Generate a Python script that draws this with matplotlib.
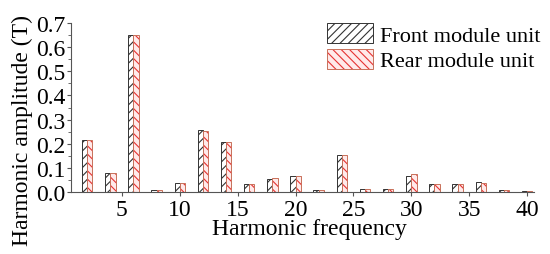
import numpy as np
import matplotlib.pyplot as plt
from matplotlib.ticker import MultipleLocator

# harmonic orders and amplitudes (T)
orders = [2, 4, 6, 8, 10, 12, 14, 16, 18, 20, 22, 24, 26, 28, 30, 32, 34, 36, 38, 40]
front = [0.215, 0.080, 0.649, 0.007, 0.037, 0.257, 0.208, 0.032, 0.055, 0.067,
         0.007, 0.154, 0.011, 0.012, 0.067, 0.032, 0.035, 0.042, 0.010, 0.004]
rear = [0.215, 0.080, 0.649, 0.007, 0.037, 0.253, 0.208, 0.032, 0.058, 0.067,
        0.007, 0.154, 0.011, 0.012, 0.075, 0.032, 0.035, 0.037, 0.010, 0.004]

plt.rcParams['font.family'] = ['Liberation Serif', 'DejaVu Serif']
plt.rcParams['hatch.linewidth'] = 0.8
plt.rcParams['hatch.color'] = 'black'

fig = plt.figure(figsize=(5.5, 2.55), dpi=100)
ax = fig.add_axes([0.129, 0.243, 0.842, 0.663])

red_hatch = (0.9, 0.2, 0.2, 1.0)
x = np.array(orders)
w = 0.45
ax.bar(x - w / 2, front, width=w, color='white', edgecolor='#333333',
       hatch='////', linewidth=0.7, label='Front module unit')
b2 = ax.bar(x + w / 2, rear, width=w, color='#ffeaea', edgecolor='#c8705a',
            hatch='\\\\\\\\', linewidth=0.7, label='Rear module unit')
for p in b2:
    p._hatch_color = red_hatch

ax.set_xlim(0.6, 40.6)
ax.set_ylim(0, 0.7)
ax.xaxis.set_major_locator(MultipleLocator(5))
ax.yaxis.set_major_locator(MultipleLocator(0.1))
ax.yaxis.set_minor_locator(MultipleLocator(0.05))
ax.yaxis.set_major_formatter(plt.FormatStrFormatter('%.1f'))

for s in ['top', 'right']:
    ax.spines[s].set_visible(False)
for s in ['left', 'bottom']:
    ax.spines[s].set_color('#555555')
    ax.spines[s].set_linewidth(0.8)
ax.tick_params(axis='both', labelsize=17, color='#555555', length=3, width=0.8, pad=1)
ax.tick_params(axis='x', pad=2)
ax.tick_params(axis='y', which='minor', length=2, color='#555555')

ax.set_xlabel('Harmonic frequency', fontsize=17)
ax.set_ylabel('Harmonic amplitude (T)', fontsize=17)
ax.xaxis.set_label_coords(0.516, -0.155)
ax.yaxis.set_label_coords(-0.083, 0.367)

leg = ax.legend(loc='upper left', bbox_to_anchor=(0.553, 1.0), frameon=False,
                fontsize=16, handlelength=2.07, handleheight=1.0,
                handletextpad=0.3, labelspacing=0.15, borderaxespad=0,
                borderpad=0)
for h in leg.legend_handles[1:]:
    h._hatch_color = red_hatch

fig.savefig('out.png', dpi=100)
